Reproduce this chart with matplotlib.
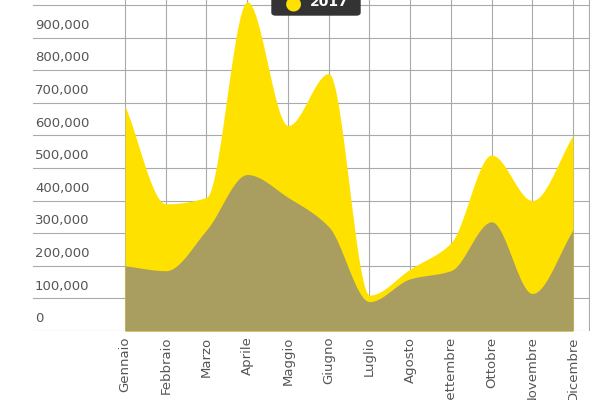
import numpy as np
import matplotlib
matplotlib.use("Agg")
import matplotlib.pyplot as plt
from matplotlib.patches import FancyBboxPatch

months = ["Gennaio","Febbraio","Marzo","Aprile","Maggio","Giugno","Luglio","Agosto","Settembre","Ottobre","Novembre","Dicembre"]
total = [690000,390000,410000,1010000,630000,790000,110000,190000,270000,540000,400000,600000]
base = [200000,185000,310000,480000,410000,320000,90000,160000,185000,335000,115000,310000]
yticks = [0,100000,200000,300000,400000,500000,600000,700000,800000,900000,1000000]

def smooth(y, n=30):
    y = np.asarray(y, float); x = np.arange(len(y))
    d = np.diff(y); m = np.zeros_like(y)
    m[0], m[-1] = d[0], d[-1]
    for i in range(1, len(y)-1):
        m[i] = 0 if d[i-1]*d[i] <= 0 else 2/(1/d[i-1]+1/d[i])
    xs, ys = [], []
    for i in range(len(y)-1):
        t = np.linspace(0, 1, n, endpoint=False)
        h00=2*t**3-3*t**2+1; h10=t**3-2*t**2+t; h01=-2*t**3+3*t**2; h11=t**3-t**2
        xs.append(x[i]+t); ys.append(h00*y[i]+h10*m[i]+h01*y[i+1]+h11*m[i+1])
    xs.append([x[-1]]); ys.append([y[-1]])
    return np.concatenate(xs), np.concatenate(ys)

fig = plt.figure(figsize=(6,4), dpi=100)
ax = fig.add_axes([33/600, (400-331)/400, (590-33)/600, 331/400*1.0])
x = np.arange(len(months))
xt, yt = smooth(total); xb, yb = smooth(base)
ax.fill_between(xt, 0, yt, color="#FFE100", lw=0, zorder=2)
ax.fill_between(xb, 0, yb, color="#A99D60", lw=0, zorder=3)
sp = 40.7
ax.set_xlim(-(125-33)/sp, 11 + (590-573)/sp)
ax.set_ylim(0, 1000000*331/326)
for v in yticks:
    ax.axhline(v, color="#aaaaaa", lw=0.8, zorder=1)
    ax.text(-(125-35)/sp, v+18000, f"{v:,}", fontsize=9.5, color="#555555", va="bottom", ha="left", zorder=4)
for i in range(12):
    ax.axvline(i, color="#aaaaaa", lw=0.8, zorder=1)
ax.axvline(11.4, color="#aaaaaa", lw=0.8, zorder=1)
ax.set_yticks([])
ax.set_xticks(x)
ax.set_xticklabels(months, rotation=90, fontsize=9.5, color="#555555")
ax.tick_params(axis="x", length=0, pad=4)
for s in ax.spines.values():
    s.set_visible(False)
# tooltip (partially cut off at top)
box = FancyBboxPatch((272/600, 1-15/400), 88/600, 30/400, boxstyle="round,pad=0,rounding_size=0.006",
                     transform=fig.transFigure, color="#333333", zorder=10)
fig.patches.append(box)
fig.text(293/600, 1-3/400, "●", color="#FFE100", fontsize=14, ha="center", va="center", zorder=11)
fig.text(310/600, 1-2/400, "2017", color="white", fontsize=10, fontweight="bold", ha="left", va="center", zorder=11)
fig.savefig("out.png", dpi=100)
